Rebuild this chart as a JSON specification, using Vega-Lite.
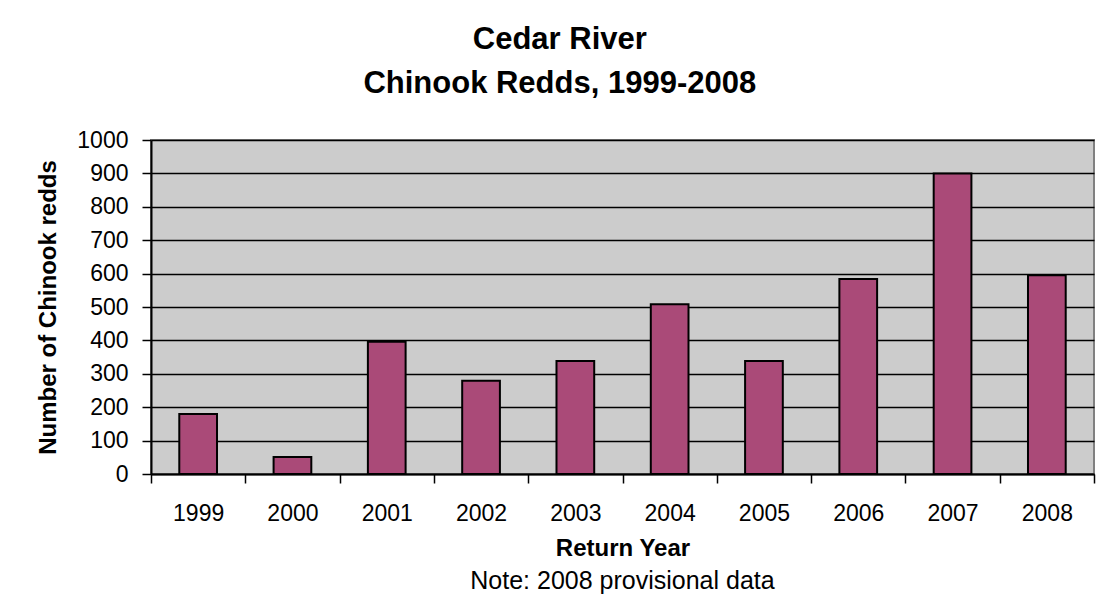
{
  "$schema": "https://vega.github.io/schema/vega-lite/v6.json",
  "background": "white",
  "padding": {"left": 35, "top": 24, "right": 8, "bottom": 8},
  "title": {
    "text": ["Cedar River", "Chinook Redds, 1999-2008"],
    "font": "Liberation Sans",
    "fontSize": 31,
    "fontWeight": "bold",
    "color": "black",
    "lineHeight": 44,
    "offset": 28,
    "anchor": "middle",
    "dx": -6
  },
  "vconcat": [
    {
      "width": 943,
      "height": 334,
      "title": {
        "text": "Note: 2008 provisional data",
        "orient": "bottom",
        "frame": "group",
        "anchor": "middle",
        "font": "Liberation Sans",
        "fontSize": 25,
        "fontWeight": "normal",
        "color": "black",
        "offset": 9
      },
      "data": {
        "values": [
          {"year": "1999", "redds": 180},
          {"year": "2000", "redds": 51},
          {"year": "2001", "redds": 396},
          {"year": "2002", "redds": 279},
          {"year": "2003", "redds": 338},
          {"year": "2004", "redds": 508},
          {"year": "2005", "redds": 338},
          {"year": "2006", "redds": 584},
          {"year": "2007", "redds": 900},
          {"year": "2008", "redds": 595}
        ]
      },
      "mark": {"type": "bar", "color": "#AA4A78", "stroke": "black", "strokeWidth": 2, "width": {"band": 0.4}},
      "encoding": {
        "x": {
          "field": "year",
          "type": "ordinal",
          "scale": {"paddingInner": 0, "paddingOuter": 0},
          "axis": {
            "title": "Return Year",
            "labelAngle": 0,
            "tickBand": "extent",
            "grid": false,
            "labelFont": "Liberation Sans",
            "labelFontSize": 23,
            "labelColor": "black",
            "labelPadding": 19,
            "tickSize": 9,
            "tickColor": "black",
            "tickWidth": 1.5,
            "domainColor": "black",
            "domainWidth": 2,
            "titleFont": "Liberation Sans",
            "titleFontSize": 24,
            "titleFontWeight": "bold",
            "titleColor": "black",
            "titlePadding": 11
          }
        },
        "y": {
          "field": "redds",
          "type": "quantitative",
          "scale": {"domain": [0, 1000], "nice": false},
          "axis": {
            "title": "Number of Chinook redds",
            "values": [0, 100, 200, 300, 400, 500, 600, 700, 800, 900, 1000],
            "format": "d",
            "grid": true,
            "gridColor": "black",
            "gridWidth": 1.5,
            "gridOpacity": 1,
            "labelFont": "Liberation Sans",
            "labelFontSize": 23,
            "labelColor": "black",
            "labelPadding": 14,
            "tickSize": 9,
            "tickColor": "black",
            "tickWidth": 1.5,
            "domainColor": "black",
            "domainWidth": 2,
            "titleFont": "Liberation Sans",
            "titleFontSize": 24,
            "titleFontWeight": "bold",
            "titleColor": "black",
            "titlePadding": 16
          }
        }
      }
    }
  ],
  "config": {
    "view": {"fill": "#CCCCCC", "stroke": "#808080", "strokeWidth": 2}
  }
}
